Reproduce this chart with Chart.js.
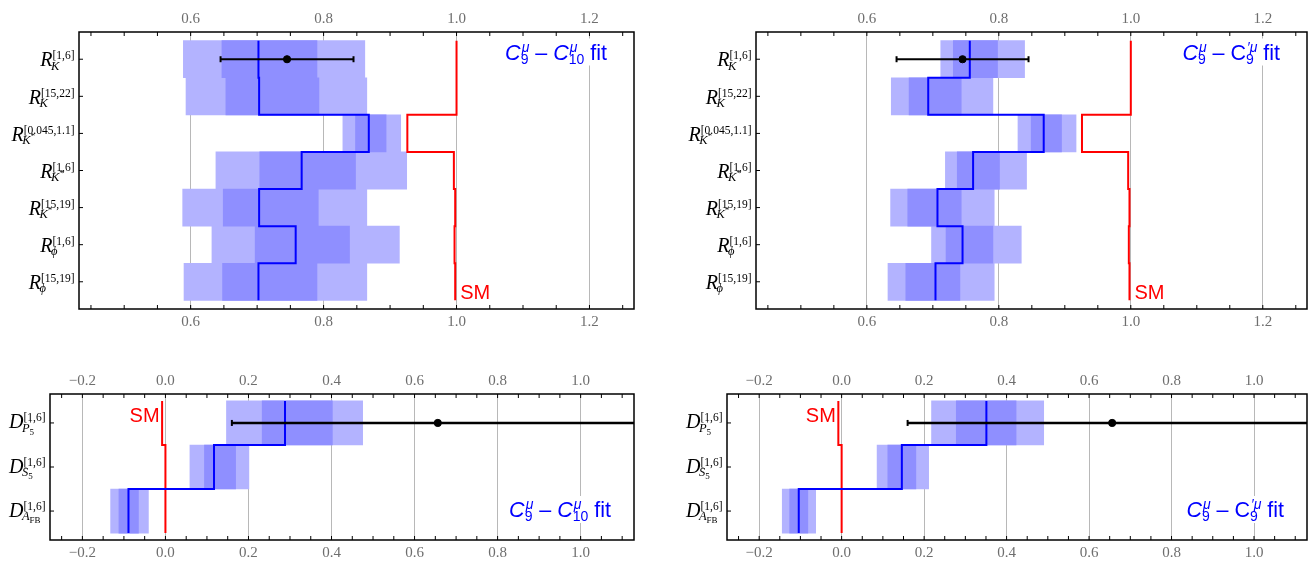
<!DOCTYPE html>
<html>
<head>
<meta charset="utf-8">
<script src="https://cdn.jsdelivr.net/npm/chart.js@4.4.0/dist/chart.umd.min.js"></script>
<style>
  html, body { margin: 0; padding: 0; background: #fff; }
  #wrap { position: relative; width: 1313px; height: 564px; overflow: hidden; background: #fff; }
  canvas { position: absolute; }
</style>
</head>
<body>
<div id="wrap">
  <canvas id="rC10" width="640" height="335" style="left:0;top:0"></canvas>
  <canvas id="rC9p" width="653" height="335" style="left:660px;top:0"></canvas>
  <canvas id="dC10" width="640" height="219" style="left:0;top:345px"></canvas>
  <canvas id="dC9p" width="653" height="219" style="left:660px;top:345px"></canvas>
</div>
<script>
// observables, top to bottom (base letter, bin as superscript, subscript pieces)
const rObs = [
    { b: 'R', sup: '[1,6]', sub: [['K', 'i']] },
    { b: 'R', sup: '[15,22]', sub: [['K', 'i']] },
    { b: 'R', sup: '[0.045,1.1]', sub: [['K', 'i'], ['*', 'ss']] },
    { b: 'R', sup: '[1,6]', sub: [['K', 'i'], ['*', 'ss']] },
    { b: 'R', sup: '[15,19]', sub: [['K', 'i'], ['*', 'ss']] },
    { b: 'R', sup: '[1,6]', sub: [['ϕ', 'i']] },
    { b: 'R', sup: '[15,19]', sub: [['ϕ', 'i']] }
];
const dObs = [
    { b: 'D', sup: '[1,6]', sub: [['P', 'i'], ['′', 'ss'], ['5', 'sb']] },
    { b: 'D', sup: '[1,6]', sub: [['S', 'i'], ['5', 'sb']] },
    { b: 'D', sup: '[1,6]', sub: [['A', 'i'], ['FB', 'sb']] }
];

const xTicksR = [0.6, 0.8, 1.0, 1.2];
const xTicksD = [-0.2, 0.0, 0.2, 0.4, 0.6, 0.8, 1.0];

// SM predictions
const smR = [1.0, 1.0, 0.926, 0.996, 0.998, 0.997, 0.998];
const smD = [-0.008, 0.0, 0.0];

// measurements: central, low, high
const rkMeas = [0.745, 0.645, 0.845];
const dP5Meas = [0.656, 0.160, 1.152];

// C9 - C10 fit
const c910R = [0.702, 0.703, 0.868, 0.767, 0.703, 0.758, 0.702];
const c910R1lo = [0.647, 0.653, 0.848, 0.704, 0.649, 0.697, 0.648];
const c910R1hi = [0.790, 0.793, 0.894, 0.848, 0.792, 0.839, 0.790];
const c910R2lo = [0.589, 0.593, 0.829, 0.638, 0.588, 0.632, 0.590];
const c910R2hi = [0.862, 0.865, 0.916, 0.925, 0.865, 0.914, 0.865];
const c910D = [0.288, 0.117, -0.089];
const c910D1lo = [0.233, 0.094, -0.112];
const c910D1hi = [0.402, 0.169, -0.065];
const c910D2lo = [0.147, 0.059, -0.132];
const c910D2hi = [0.475, 0.201, -0.041];

// C9 - C9' fit
const c99R = [0.756, 0.693, 0.868, 0.761, 0.707, 0.745, 0.704];
const c99R1lo = [0.731, 0.664, 0.849, 0.737, 0.662, 0.720, 0.659];
const c99R1hi = [0.798, 0.743, 0.895, 0.801, 0.743, 0.791, 0.741];
const c99R2lo = [0.712, 0.637, 0.829, 0.719, 0.636, 0.698, 0.632];
const c99R2hi = [0.839, 0.791, 0.917, 0.842, 0.793, 0.834, 0.793];
const c99D = [0.351, 0.146, -0.104];
const c99D1lo = [0.278, 0.112, -0.126];
const c99D1hi = [0.423, 0.180, -0.082];
const c99D2lo = [0.218, 0.086, -0.144];
const c99D2hi = [0.490, 0.211, -0.063];

// fit names
const fitC910 = [['C', 'i'], ['μ', '9'], [' – ', 'r'], ['C', 'i'], ['μ', '10'], [' fit', 'r']];
const fitC99p = [['C', 'i'], ['μ', '9'], [' – ', 'r'], ['C', 'r'], ['′μ', '9'], [' fit', 'r']];

const SERIF = '"Liberation Serif", "DejaVu Serif", serif';
const SANS = '"Liberation Sans", Arial, sans-serif';
const LIGHT = '#b3b3ff';
const MID = '#8f8fff';

function fmtTick(v) {
    return (v < -1e-9 ? '−' : '') + Math.abs(v).toFixed(1);
}

function stepPoints(vals) {
    const pts = [];
    vals.forEach((v, i) => {
        pts.push({ x: v, y: i - 0.5 }, { x: v, y: i + 0.5 });
    });
    return pts;
}

function barData(lo, hi) {
    return lo.map((l, i) => ({ y: i, x: [l, hi[i]] }));
}

// subscript pieces of an axis label
function layoutSub(ctx, toks, x, y, draw) {
    let cx = x, gx = null, gw = 0;
    for (const [t, k] of toks) {
        const small = k === 'ss' || k === 'sb';
        ctx.font = (k === 'i' ? 'italic 12.5px ' : small ? '9px ' : '12.5px ') + SERIF;
        const w = ctx.measureText(t).width;
        if (small) {
            if (gx === null) { gx = cx; gw = 0; }
            if (draw) ctx.fillText(t, gx, y + (k === 'ss' ? -5 : 3));
            gw = Math.max(gw, w);
            cx = gx + gw;
        } else {
            gx = null;
            if (draw) ctx.fillText(t, cx, y);
            cx += w;
        }
    }
    return cx - x;
}

function drawAxisLabel(ctx, lab, xr, cy, dyBase) {
    ctx.textAlign = 'left';
    ctx.textBaseline = 'alphabetic';
    ctx.fillStyle = '#000';
    ctx.font = 'italic 20px ' + SERIF;
    const wMain = ctx.measureText(lab.b).width;
    ctx.font = '11.5px ' + SERIF;
    const wSup = ctx.measureText(lab.sup).width;
    const wSub = layoutSub(ctx, lab.sub, 0, 0, false);
    const x0 = xr - wMain - Math.max(wSup, wSub - 1.5);
    const yb = cy + dyBase;
    ctx.font = 'italic 20px ' + SERIF;
    ctx.fillText(lab.b, x0, yb);
    ctx.font = '11.5px ' + SERIF;
    ctx.fillText(lab.sup, x0 + wMain, yb - 7);
    layoutSub(ctx, lab.sub, x0 + wMain - 1.5, yb + 3.3, true);
}

// fit name like C9^mu - C10^mu fit
function richText(ctx, toks, x, y, draw) {
    let cx = x;
    for (const tk of toks) {
        if (tk[1] === 'i' || tk[1] === 'r') {
            ctx.font = (tk[1] === 'i' ? 'italic ' : '') + '21.5px ' + SANS;
            if (draw) ctx.fillText(tk[0], cx, y);
            cx += ctx.measureText(tk[0]).width;
        } else {
            ctx.font = 'italic 14px ' + SANS;
            const w1 = ctx.measureText(tk[0]).width;
            if (draw) ctx.fillText(tk[0], cx + 1, y - 8);
            ctx.font = '14px ' + SANS;
            const w2 = ctx.measureText(tk[1]).width;
            if (draw) ctx.fillText(tk[1], cx, y + 4);
            cx += Math.max(w1 + 1, w2);
        }
    }
    return cx - x;
}

function makeDecor(o) {
    return {
        id: 'decor',
        afterDatasetsDraw(chart) {
            const ctx = chart.ctx, a = chart.chartArea, xs = chart.scales.x;
            ctx.save();
            ctx.textBaseline = 'alphabetic';
            ctx.font = '20px ' + SANS;
            ctx.fillStyle = '#ff0000';
            if (o.top) {
                ctx.textAlign = 'left';
                ctx.fillText('SM', xs.getPixelForValue(o.sm[o.sm.length - 1]) + 5, a.bottom - 10);
            } else {
                ctx.textAlign = 'right';
                ctx.fillText('SM', xs.getPixelForValue(o.sm[0]) - 2.5, a.top + 28);
            }
            ctx.textAlign = 'left';
            const w = richText(ctx, o.fit, 0, 0, false);
            const xr = a.right - (o.top ? 27 : 23);
            const yb = o.top ? a.top + 27.5 : a.bottom - 23;
            const t = Math.max(a.top + 1, yb - 21);
            ctx.fillStyle = '#fff';
            ctx.fillRect(xr - w - 3, t, w + 6, yb + 6 - t);
            ctx.fillStyle = '#0000ff';
            richText(ctx, o.fit, xr - w, yb, true);
            ctx.restore();
        },
        afterDraw(chart) {
            const ctx = chart.ctx, a = chart.chartArea;
            const xs = chart.scales.x, ys = chart.scales.y;
            ctx.save();
            ctx.strokeStyle = '#000';
            ctx.lineWidth = 1;
            ctx.beginPath();
            for (let k = Math.ceil(xs.min * 20); k <= Math.floor(xs.max * 20); k++) {
                const px = xs.getPixelForValue(k / 20);
                ctx.moveTo(px, a.top); ctx.lineTo(px, a.top + 4);
                ctx.moveTo(px, a.bottom); ctx.lineTo(px, a.bottom - 4);
            }
            o.labels.forEach((_, i) => {
                const py = ys.getPixelForValue(i);
                ctx.moveTo(a.left, py); ctx.lineTo(a.left + 4, py);
            });
            ctx.stroke();
            ctx.lineWidth = 1.5;
            ctx.strokeRect(a.left, a.top, a.right - a.left, a.bottom - a.top);
            o.labels.forEach((lab, i) => {
                drawAxisLabel(ctx, lab, a.left - 4.5, ys.getPixelForValue(i), o.top ? 7.2 : 5.5);
            });
            ctx.restore();
        }
    };
}

function panel(id, o) {
    const n = o.labels.length;
    const pad = o.top ? 0.234 : 0.157;
    const tickFont = { family: SERIF, size: 15 };
    const xAxis = (pos, h, grid) => ({
        type: 'linear', position: pos, axis: 'x', min: o.xmin, max: o.xmax, offset: false,
        afterBuildTicks: ax => { ax.ticks = o.ticks.map(v => ({ value: v })); },
        afterFit: s => { s.height = h; },
        grid: grid ? { color: '#b8b8b8', lineWidth: 1, drawTicks: false, offset: false }
                   : { display: false, drawTicks: false },
        border: { display: false },
        ticks: { padding: 4, color: '#6e6e6e', font: tickFont, callback: fmtTick, autoSkip: false, maxRotation: 0 }
    });
    const datasets = [
        { type: 'bar', indexAxis: 'y', xAxisID: 'x', yAxisID: 'y', data: barData(o.lo2, o.hi2),
          backgroundColor: LIGHT, borderWidth: 0, grouped: false, barPercentage: 1, categoryPercentage: 1, order: 6 },
        { type: 'bar', indexAxis: 'y', xAxisID: 'x', yAxisID: 'y', data: barData(o.lo1, o.hi1),
          backgroundColor: MID, borderWidth: 0, grouped: false, barPercentage: 1, categoryPercentage: 1, order: 5 },
        { type: 'scatter', showLine: true, xAxisID: 'x', yAxisID: 'y', data: stepPoints(o.sm),
          borderColor: '#ff0000', borderWidth: 2, pointRadius: 0, borderJoinStyle: 'miter', order: 4 },
        { type: 'scatter', showLine: true, xAxisID: 'x', yAxisID: 'y', data: stepPoints(o.central),
          borderColor: '#0000ff', borderWidth: 2, pointRadius: 0, borderJoinStyle: 'miter', order: 3 },
        { type: 'scatter', showLine: true, xAxisID: 'x', yAxisID: 'y', clip: 0,
          data: [{ x: o.meas[1], y: 0 }, { x: o.meas[2], y: 0 }],
          borderColor: '#000', borderWidth: o.top ? 2 : 2.5, pointStyle: 'line', rotation: 90, pointRadius: 3,
          pointBorderWidth: 2, pointBorderColor: '#000', order: 2 },
        { type: 'scatter', xAxisID: 'x', yAxisID: 'y', data: [{ x: o.meas[0], y: 0 }],
          pointRadius: 3.6, backgroundColor: '#000', borderColor: '#000', order: 1 }
    ];
    new Chart(document.getElementById(id), {
        type: 'scatter',
        data: { datasets },
        options: {
            responsive: false,
            animation: false,
            devicePixelRatio: 1,
            events: [],
            layout: { padding: { left: 0, top: 0, bottom: 0, right: o.padRight } },
            plugins: { legend: { display: false }, tooltip: { enabled: false } },
            scales: {
                x: xAxis('bottom', o.bottomH, true),
                x2: xAxis('top', o.topH, false),
                y: {
                    type: 'linear', position: 'left', reverse: true, offset: false,
                    min: -0.5 - pad, max: n - 0.5 + pad,
                    afterBuildTicks: ax => { ax.ticks = o.labels.map((_, i) => ({ value: i })); },
                    afterFit: s => { s.width = o.leftW; },
                    grid: { display: false, offset: false },
                    border: { display: false },
                    ticks: { display: false }
                }
            }
        },
        plugins: [makeDecor(o)]
    });
}

panel('rC10', {
    top: true, labels: rObs, ticks: xTicksR, xmin: 0.432, xmax: 1.267,
    leftW: 79, padRight: 6, topH: 32, bottomH: 26,
    central: c910R, lo1: c910R1lo, hi1: c910R1hi, lo2: c910R2lo, hi2: c910R2hi,
    sm: smR, meas: rkMeas, fit: fitC910
});
panel('rC9p', {
    top: true, labels: rObs, ticks: xTicksR, xmin: 0.432, xmax: 1.267,
    leftW: 96, padRight: 2, topH: 32, bottomH: 26,
    central: c99R, lo1: c99R1lo, hi1: c99R1hi, lo2: c99R2lo, hi2: c99R2hi,
    sm: smR, meas: rkMeas, fit: fitC99p
});
panel('dC10', {
    top: false, labels: dObs, ticks: xTicksD, xmin: -0.278, xmax: 1.1285,
    leftW: 50, padRight: 5, topH: 49, bottomH: 24,
    central: c910D, lo1: c910D1lo, hi1: c910D1hi, lo2: c910D2lo, hi2: c910D2hi,
    sm: smD, meas: dP5Meas, fit: fitC910
});
panel('dC9p', {
    top: false, labels: dObs, ticks: xTicksD, xmin: -0.278, xmax: 1.1285,
    leftW: 67, padRight: 2, topH: 49, bottomH: 24,
    central: c99D, lo1: c99D1lo, hi1: c99D1hi, lo2: c99D2lo, hi2: c99D2hi,
    sm: smD, meas: dP5Meas, fit: fitC99p
});
</script>
</body>
</html>
